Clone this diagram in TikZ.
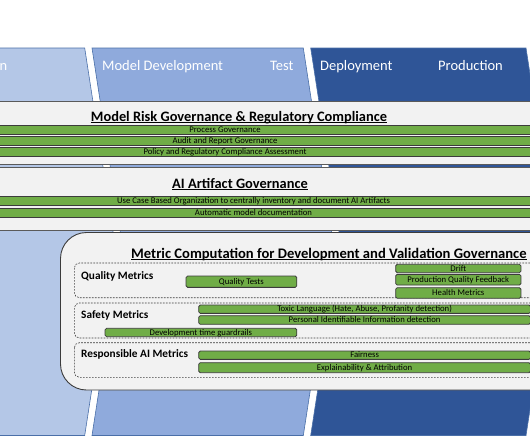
\documentclass[tikz,border=0pt]{standalone}
\usepackage{fontspec}
\setmainfont{Carlito}
\usetikzlibrary{positioning}

\definecolor{phaseA}{HTML}{B4C7E7}
\definecolor{phaseB}{HTML}{8FAADC}
\definecolor{phaseC}{HTML}{2F5597}
\definecolor{phaseline}{HTML}{4A6FA8}
\definecolor{panelfill}{HTML}{F2F2F2}
\definecolor{panelline}{HTML}{5A5A5A}
\definecolor{bargreen}{HTML}{70AD47}
\definecolor{barline}{HTML}{3C3C3C}

\begin{document}
\begin{tikzpicture}[x=1pt,y=-1pt,
  every node/.style={inner sep=0pt},
  phasecol/.style={draw=phaseline,line width=0.6pt},
  phaselabel/.style={anchor=base west,text=white,font=\fontsize{14.5}{16}\selectfont},
  govpanel/.style={draw=panelline,fill=panelfill,line width=0.9pt},
  paneltitle/.style={anchor=base,font=\fontsize{14.4}{16}\selectfont\bfseries},
  titleline/.style={line width=1.1pt},
  govbar/.style={draw=barline,fill=bargreen,line width=0.8pt,minimum height=9pt,
    text height=6.5pt,text depth=1pt,font=\fontsize{8.7}{9}\selectfont},
  metricbar/.style={govbar,rounded corners=1.5pt},
  metricgroup/.style={draw=barline,dashed,dash pattern=on 1.7pt off 1.3pt,
    rounded corners=5pt,line width=0.6pt},
  grouplabel/.style={anchor=base west,font=\fontsize{11.3}{13}\selectfont\bfseries}]
\useasboundingbox (0,0) rectangle (530,442);
\clip (0,0) rectangle (530,442);

% lifecycle phases
\path[phasecol,fill=phaseA] (-60,48) -- (84.7,48) -- (114.6,242) -- (84.7,435.5) -- (-60,435.5) -- cycle;
\path[phasecol,fill=phaseB] (92,48) -- (303.3,48) -- (333.2,242) -- (303.3,435.5) -- (92,435.5) -- (121.9,242) -- cycle;
\path[phasecol,fill=phaseC] (310.7,48) -- (526,48) -- (555.9,242) -- (526,435.5) -- (310.7,435.5) -- (340.6,242) -- cycle;
\node[phaselabel,anchor=base east] (prep) at (7.5,70) {n};
\node[phaselabel] (devel) at (102,70) {Model Development};
\node[phaselabel] (test) at (270,70) {Test};
\node[phaselabel] (deploy) at (320,70) {Deployment};
\node[phaselabel] (prod) at (438,70) {Production};

% model risk governance
\path[govpanel] (-5,101) rectangle (540,164);
\node[paneltitle] (riskgov) at (239,121) {Model Risk Governance \& Regulatory Compliance};
\draw[titleline] ([yshift=-1.5pt]riskgov.base west) -- ([yshift=-1.5pt]riskgov.base east);
\node[govbar,minimum width=630pt] (procgov) at (225,130) {Process Governance};
\node[govbar,minimum width=630pt,below=1.3pt of procgov] (auditgov) {Audit and Report Governance};
\node[govbar,minimum width=630pt,below=1.3pt of auditgov] (policygov) {Policy and Regulatory Compliance Assessment};

% artifact governance
\path[govpanel] (-5,167.5) rectangle (540,230);
\node[paneltitle] (artgov) at (240,188.3) {AI Artifact Governance};
\draw[titleline] ([yshift=-1.5pt]artgov.base west) -- ([yshift=-1.5pt]artgov.base east);
\node[govbar,minimum width=573pt] (usecase) at (253.5,200.9) {Use Case Based Organization to centrally inventory and document AI Artifacts};
\node[govbar,minimum width=573pt,below=2.3pt of usecase] (autodoc) {Automatic model documentation};

% metric computation
\path[govpanel,draw=barline,rounded corners=26pt] (60.5,232.5) rectangle (600,390);
\node[paneltitle,anchor=base west,font=\fontsize{14.6}{16}\selectfont\bfseries] (metricgov) at (131,258.3) {Metric Computation for Development and Validation Governance};
\draw[titleline] ([yshift=-1.5pt]metricgov.base west) -- ([yshift=-1.5pt]metricgov.base east);

\path[metricgroup] (74.3,263) rectangle (560,297.7);
\node[grouplabel] (quality) at (81,279) {Quality Metrics};
\node[metricbar,minimum width=110.7pt,minimum height=11.3pt] (qtests) at (241.4,281.7) {Quality Tests};
\node[metricbar,minimum width=125.3pt,minimum height=8.4pt] (drift) at (458.3,268.5) {Drift};
\node[metricbar,minimum width=125.3pt,minimum height=10.7pt] (feedback) at (458.3,279.7) {Production Quality Feedback};
\node[metricbar,minimum width=125.3pt,minimum height=10.6pt] (health) at (458.3,293) {Health Metrics};

\path[metricgroup] (74.3,303) rectangle (560,338);
\node[grouplabel] (safety) at (81,318.5) {Safety Metrics};
\node[metricbar,minimum width=331.8pt,minimum height=8.3pt] (toxic) at (364.6,309.2) {Toxic Language (Hate, Abuse, Profanity detection)};
\node[metricbar,minimum width=331.8pt,minimum height=8.6pt] (pii) at (364.6,320) {Personal Identifiable Information detection};
\node[metricbar,minimum width=191.7pt,minimum height=8.4pt] (guardrails) at (200.9,332.5) {Development time guardrails};

\path[metricgroup] (74.3,342.7) rectangle (560,377.3);
\node[grouplabel] (respai) at (81,357.5) {Responsible AI Metrics};
\node[metricbar,minimum width=331.8pt,minimum height=8.3pt] (fairness) at (364.6,355.2) {Fairness};
\node[metricbar,minimum width=331.8pt,minimum height=10pt] (explain) at (364.6,367.7) {Explainability \& Attribution};
\end{tikzpicture}
\end{document}
